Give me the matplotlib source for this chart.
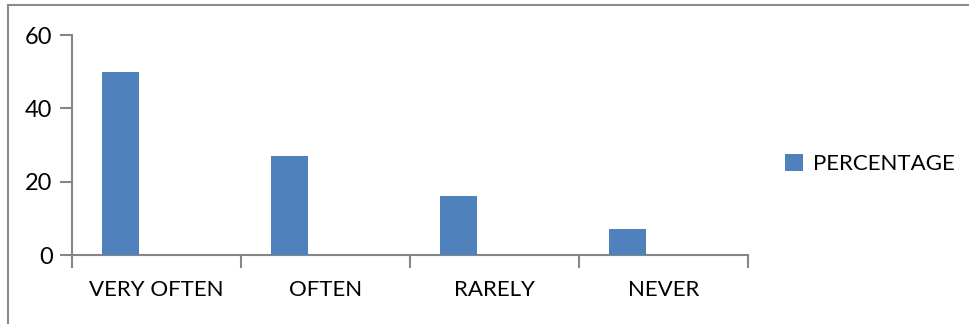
import matplotlib
matplotlib.use("Agg")
import matplotlib.pyplot as plt
from matplotlib.patches import Patch
from matplotlib.lines import Line2D

categories = ["VERY OFTEN", "OFTEN", "RARELY", "NEVER"]
percentage = [50, 27, 16, 7]
y_ticks = [0, 20, 40, 60]
series_name = "PERCENTAGE"

BAR_COLOR = "#4F81BD"
AXIS_COLOR = "#868686"

plt.rcParams["font.family"] = ["Lato", "DejaVu Sans"]

fig = plt.figure(figsize=(9.69, 3.24), dpi=100)
ax = fig.add_axes([72 / 969, 1 - 255 / 324, (748 - 72) / 969, (255 - 35) / 324])

x = list(range(len(categories)))
bar_w = 0.222
offset = -0.5 + 0.176 + bar_w / 2
ax.bar([i + offset for i in x], percentage, width=bar_w, color=BAR_COLOR, zorder=3)

ax.set_xlim(-0.5, len(categories) - 0.5)
ax.set_ylim(0, 60)
ax.set_yticks(y_ticks)
ax.set_xticks([i - 0.5 for i in range(len(categories) + 1)], minor=False)
ax.set_xticklabels([])
ax.set_xticks(x, minor=True)
ax.set_xticklabels(categories, minor=True)
ax.tick_params(axis="x", which="minor", length=0, labelsize=16, pad=18, colors="black")
ax.tick_params(axis="x", which="major", length=9, width=1.5, color=AXIS_COLOR)
ax.tick_params(axis="y", length=9, width=1.5, color=AXIS_COLOR, labelsize=17, pad=5)

for side in ["top", "right"]:
    ax.spines[side].set_visible(False)
for side in ["left", "bottom"]:
    ax.spines[side].set_color(AXIS_COLOR)
    ax.spines[side].set_linewidth(1.5)

handle = Patch(facecolor=BAR_COLOR, edgecolor="none")
fig.legend([handle], [series_name], loc="center left",
           bbox_to_anchor=(785 / 969, 1 - 164 / 324), frameon=False,
           fontsize=16, handlelength=0.81, handleheight=0.81, handletextpad=0.45,
           borderpad=0, borderaxespad=0)

# outer frame (top and left edges)
fig.add_artist(Line2D([8 / 969, 1], [1 - 5 / 324, 1 - 5 / 324], color="#8C8C8C", lw=1.5,
                      transform=fig.transFigure))
fig.add_artist(Line2D([8 / 969, 8 / 969], [0, 1 - 5 / 324], color="#8C8C8C", lw=1.5,
                      transform=fig.transFigure))

fig.savefig("out.png", dpi=100, facecolor="white")
